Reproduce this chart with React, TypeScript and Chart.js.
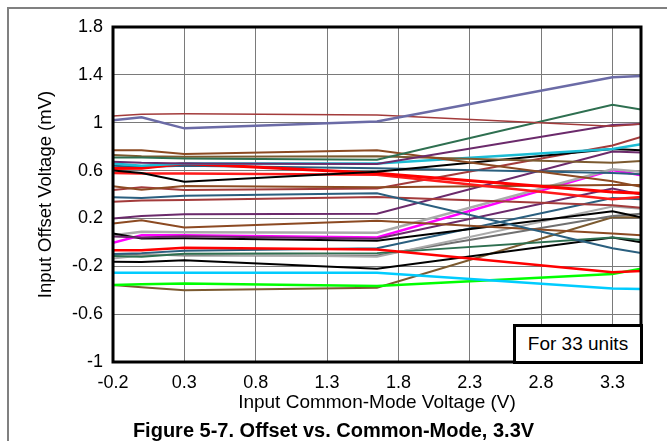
import React, { useEffect, useRef } from "react";
import { Chart, registerables } from "chart.js";

Chart.register(...registerables);

// Common-mode voltage points (V) where every unit was measured
const X_POINTS = [-0.2, 0, 0.3, 1.65, 3.3, 3.5];
const X_TICKS = [-0.2, 0.3, 0.8, 1.3, 1.8, 2.3, 2.8, 3.3];
const Y_TICKS = [-1, -0.6, -0.2, 0.2, 0.6, 1, 1.4, 1.8];

// Input offset voltage (mV) of each unit at X_POINTS
const UNIT_01 = [1.02, 1.045, 0.953, 1.01, 1.38, 1.39];
const UNIT_02 = [1.056, 1.07, 1.075, 1.065, 0.97, 0.99];
const UNIT_03 = [0.71, 0.71, 0.7, 0.69, 1.15, 1.11];
const UNIT_04 = [0.674, 0.665, 0.66, 0.655, 0.98, 0.99];
const UNIT_05 = [0.77, 0.77, 0.738, 0.77, 0.51, 0.465];
const UNIT_06 = [0.73, 0.72, 0.715, 0.72, 0.665, 0.68];
const UNIT_07 = [0.66, 0.64, 0.66, 0.66, 0.78, 0.82];
const UNIT_08 = [0.6, 0.58, 0.506, 0.59, 0.78, 0.77];
const UNIT_09 = [0.618, 0.62, 0.66, 0.577, 0.42, 0.41];
const UNIT_10 = [0.58, 0.575, 0.575, 0.565, 0.36, 0.38];
const UNIT_11 = [0.64, 0.63, 0.64, 0.62, 0.58, 0.57];
const UNIT_12 = [0.47, 0.44, 0.47, 0.46, 0.48, 0.48];
const UNIT_13 = [0.437, 0.46, 0.437, 0.45, 0.81, 0.88];
const UNIT_14 = [0.376, 0.37, 0.39, 0.41, -0.05, -0.09];
const UNIT_15 = [0.34, 0.35, 0.355, 0.38, 0.31, 0.29];
const UNIT_16 = [0.2, 0.22, 0.235, 0.24, 0.76, 0.75];
const UNIT_17 = [0.158, 0.185, 0.125, 0.18, 0.075, 0.06];
const UNIT_18 = [0.05, 0.04, 0.05, 0.03, 0.45, 0.4];
const UNIT_19 = [0.075, 0.033, 0.035, 0.013, 0.26, 0.21];
const UNIT_20 = [0.06, 0.088, 0.085, 0.08, 0.61, 0.59];
const UNIT_21 = [-0.003, 0.06, 0.06, 0.04, 0.605, 0.56];
const UNIT_22 = [-0.065, -0.065, -0.045, -0.06, -0.25, -0.24];
const UNIT_23 = [-0.098, -0.09, -0.07, -0.05, 0.37, 0.36];
const UNIT_24 = [-0.115, -0.12, -0.095, -0.09, 0.04, 0.02];
const UNIT_25 = [-0.134, -0.11, -0.1, -0.12, 0.3, 0.28];
const UNIT_26 = [-0.1, -0.1, -0.11, -0.11, 0.22, 0.24];
const UNIT_27 = [-0.162, -0.165, -0.15, -0.22, 0.04, 0.0];
const UNIT_28 = [-0.254, -0.254, -0.255, -0.254, -0.385, -0.39];
const UNIT_29 = [-0.357, -0.35, -0.343, -0.365, -0.265, -0.22];
const UNIT_30 = [-0.357, -0.375, -0.4, -0.38, 0.21, 0.21];

const UNITS = [
  UNIT_01, UNIT_02, UNIT_03, UNIT_04, UNIT_05, UNIT_06, UNIT_07, UNIT_08, UNIT_09, UNIT_10,
  UNIT_11, UNIT_12, UNIT_13, UNIT_14, UNIT_15, UNIT_16, UNIT_17, UNIT_18, UNIT_19, UNIT_20,
  UNIT_21, UNIT_22, UNIT_23, UNIT_24, UNIT_25, UNIT_26, UNIT_27, UNIT_28, UNIT_29, UNIT_30,
];

// styles, one per unit
const UNIT_COLORS = [
  "#6B6BA6", "#A33B3B", "#2E6F50", "#6B2A6B", "#8C4A22", "#7B5A30", "#1CBCD4", "#000000",
  "#FF0000", "#FF1A1A", "#2A5F7F", "#8C4A22", "#A33B3B", "#2A5F7F", "#A33B3B", "#6B2A6B",
  "#8C4A22", "#6B2A6B", "#000000", "#AAAAAA", "#FF00FF", "#FF0000", "#2A5F7F", "#2E6F50",
  "#AAAAAA", "#707070", "#000000", "#00CCFF", "#00FF00", "#7B5A30",
];
const UNIT_WIDTHS = [
  2.5, 1.5, 2, 2, 2, 2, 2.5, 2, 3, 2.5, 2, 2, 2, 2, 2, 2, 2, 2, 2, 2.5, 2.5, 2.5, 2, 2, 2, 2, 2, 2.5, 2.5, 2,
];

const FONT = "'Liberation Sans', Arial, sans-serif";
const fmt = (v: number) => String(Math.round(v * 10) / 10);

const frame = {
  id: "plotFrame",
  afterDatasetsDraw(chart: any) {
    const { ctx, chartArea: a } = chart;
    ctx.save();
    ctx.strokeStyle = "#000";
    ctx.lineWidth = 3;
    ctx.strokeRect(a.left, a.top, a.right - a.left, a.bottom - a.top);
    ctx.restore();
  },
};

export default function App() {
  const ref = useRef<HTMLCanvasElement>(null);

  useEffect(() => {
    if (!ref.current) return;
    const chart = new Chart(ref.current, {
      type: "line",
      data: {
        datasets: UNITS.map((vals, i) => ({
          label: `Unit ${i + 1}`,
          data: X_POINTS.map((x, j) => ({ x, y: vals[j] })),
          borderColor: UNIT_COLORS[i],
          borderWidth: UNIT_WIDTHS[i],
          pointRadius: 0,
          fill: false,
          tension: 0,
        })),
      },
      options: {
        animation: false,
        responsive: false,
        layout: { padding: { left: 0, right: 26, top: 27, bottom: 0 } },
        plugins: { legend: { display: false }, tooltip: { enabled: false } },
        scales: {
          x: {
            type: "linear",
            min: -0.2,
            max: 3.5,
            afterBuildTicks: (s: any) => {
              s.ticks = X_TICKS.map((v) => ({ value: v }));
            },
            afterFit: (s: any) => {
              s.height = 79;
            },
            ticks: {
              autoSkip: false,
              maxRotation: 0,
              padding: 10,
              color: "#000",
              font: { family: FONT, size: 18 },
              callback: (v: any) => fmt(Number(v)),
            },
            grid: { color: "#7a7a7a", lineWidth: 1, drawTicks: false },
            border: { display: false },
            title: {
              display: true,
              text: "Input Common-Mode Voltage (V)",
              color: "#000",
              font: { family: FONT, size: 19 },
              padding: { top: 0, bottom: 27 },
            },
          },
          y: {
            type: "linear",
            min: -1,
            max: 1.8,
            afterBuildTicks: (s: any) => {
              s.ticks = Y_TICKS.map((v) => ({ value: v }));
            },
            afterFit: (s: any) => {
              s.width = 113;
            },
            ticks: {
              padding: 10,
              color: "#000",
              font: { family: FONT, size: 18 },
              callback: (v: any) => fmt(Number(v)),
            },
            grid: { color: "#7a7a7a", lineWidth: 1, drawTicks: false },
            border: { display: false },
            title: {
              display: true,
              text: "Input Offset Voltage (mV)",
              color: "#000",
              font: { family: FONT, size: 18.5 },
              padding: { top: 35, bottom: 0 },
            },
          },
        },
      },
      plugins: [frame],
    });
    return () => chart.destroy();
  }, []);

  return (
    <div style={{ position: "absolute", left: 0, top: 0, width: 667, height: 441, overflow: "hidden", background: "#fff" }}>
      <div
        style={{
          position: "absolute",
          left: 7,
          top: 7,
          width: 700,
          height: 500,
          borderTop: "2px solid #808080",
          borderLeft: "2px solid #808080",
        }}
      />
      <canvas ref={ref} width={667} height={441} style={{ position: "absolute", left: 0, top: 0, width: 667, height: 441 }} />
      <div
        style={{
          position: "absolute",
          left: 513,
          top: 324,
          width: 130,
          height: 40,
          boxSizing: "border-box",
          border: "3px solid #000",
          background: "#fff",
          font: `19px ${FONT}`,
          lineHeight: "34px",
          textAlign: "center",
          color: "#000",
        }}
      >
        For 33 units
      </div>
      <div
        style={{
          position: "absolute",
          left: 0,
          width: 667,
          top: 419,
          textAlign: "center",
          font: `bold 20px ${FONT}`,
          lineHeight: "23px",
          color: "#000",
        }}
      >
        Figure 5-7. Offset vs. Common-Mode, 3.3V
      </div>
    </div>
  );
}
